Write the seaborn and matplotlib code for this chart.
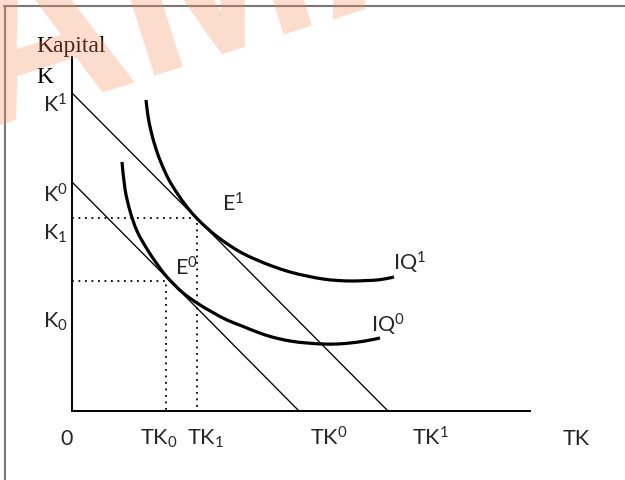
import matplotlib
matplotlib.use('Agg')
import matplotlib.pyplot as plt
import pandas as pd
import seaborn as sns
from matplotlib.lines import Line2D
from matplotlib.path import Path
from matplotlib.patches import PathPatch

# isoquant IQ1 and IQ0 (axis units)
iq1_x = [74, 76, 79, 84, 90, 97, 105, 115, 125, 135, 145, 157, 170, 185,
         200, 218, 235, 251, 266, 281, 295, 305, 315, 322]
iq1_y = [311, 295, 280, 262, 246, 231, 218, 204, 192.5, 183, 174.5, 166, 158, 151,
         145, 139, 135, 132, 130.5, 130, 130.5, 131, 132.5, 134]
iq0_x = [50, 53, 58, 65, 75, 85, 95, 110, 125, 140, 155, 170, 185, 200,
         218, 235, 251, 265, 278, 293, 308]
iq0_y = [249, 222, 200, 180, 162, 147, 134, 119, 108, 99, 91, 85, 79, 74,
         70, 68, 67, 67, 68, 70, 73]

# isocost lines: intercepts on the K axis and the TK axis (K0, K1 / TK0, TK1)
k_intercepts = [229, 318]
tk_intercepts = [227, 316]

# equilibrium points E0, E1
eq_x = [94, 125]
eq_y = [130, 193]

# axis extent
x_max = 458
y_max = 354

# labels
x_labels = ['0', 'TK$_0$', 'TK$_1$', 'TK$^0$', 'TK$^1$', 'TK']
x_label_pos = [-12, 68, 115, 238, 340, 491]
y_labels = ['K$^1$', 'K$^0$', 'K$_1$', 'K$_0$']
y_label_pos = [299, 209, 172, 84]
point_labels = ['E$^1$', 'E$^0$', 'IQ$^1$', 'IQ$^0$']
point_label_pos = [(150, 200), (103, 137), (321, 142), (299, 80)]


def smooth_path(xs, ys):
    """Cubic Bezier path running through the given points."""
    pts = list(zip(xs, ys))
    verts = [pts[0]]
    codes = [Path.MOVETO]
    for i in range(len(pts) - 1):
        p0 = pts[max(i - 1, 0)]
        p1 = pts[i]
        p2 = pts[i + 1]
        p3 = pts[min(i + 2, len(pts) - 1)]
        c1 = (p1[0] + (p2[0] - p0[0]) / 6, p1[1] + (p2[1] - p0[1]) / 6)
        c2 = (p2[0] - (p3[0] - p1[0]) / 6, p2[1] - (p3[1] - p1[1]) / 6)
        verts += [c1, c2, p2]
        codes += [Path.CURVE4] * 3
    return Path(verts, codes)


sns.set_style('white')
plt.rcParams['font.family'] = ['Lato', 'DejaVu Sans']
plt.rcParams['mathtext.fontset'] = 'custom'
plt.rcParams['mathtext.rm'] = 'Lato'
plt.rcParams['mathtext.it'] = 'Lato:italic'
plt.rcParams['mathtext.bf'] = 'Lato:bold'

fig = plt.figure(figsize=(6.25, 4.81), dpi=100)
ax = fig.add_axes([72 / 625, 1 - 412 / 481, 458 / 625, 354 / 481])
ax.set_xlim(0, x_max)
ax.set_ylim(0, y_max)

# isoquants
for xs, ys in [(iq1_x, iq1_y), (iq0_x, iq0_y)]:
    ax.add_patch(PathPatch(smooth_path(xs, ys), facecolor='none',
                           edgecolor='black', lw=2.3, capstyle='butt'))

# isocost lines
for k, tk in zip(k_intercepts, tk_intercepts):
    line = pd.DataFrame({'x': [0, tk], 'y': [k, 0]})
    sns.lineplot(data=line, x='x', y='y', color='black', lw=0.95, ax=ax)

# dotted guides to the equilibrium points
for ex, ey in zip(eq_x, eq_y):
    guide = pd.DataFrame({'x': [0, ex, ex], 'y': [ey, ey, 0]})
    sns.lineplot(data=guide, x='x', y='y', sort=False, estimator=None,
                 color='black', lw=1.3, linestyle=(0, (1, 2.6)), ax=ax)

# axes
sns.despine(ax=ax)
for side in ['left', 'bottom']:
    ax.spines[side].set_linewidth(1.4)
    ax.spines[side].set_color('black')
ax.set_xticks([])
ax.set_yticks([])
ax.set_xlabel('')
ax.set_ylabel('')

fs = 15.5
for lab, xp in zip(x_labels, x_label_pos):
    ax.text(xp, -33, lab, fontsize=fs, ha='left', va='baseline', clip_on=False)
for lab, yp in zip(y_labels, y_label_pos):
    ax.text(-29, yp, lab, fontsize=fs, ha='left', va='baseline', clip_on=False)
for lab, (xp, yp) in zip(point_labels, point_label_pos):
    ax.text(xp, yp, lab, fontsize=fs, ha='left', va='baseline', clip_on=False)

ax.text(-36, 360, 'Kapital', fontsize=17, family='Liberation Serif',
        ha='left', va='baseline', clip_on=False, color='black')
ax.text(-36, 329, 'K', fontsize=17, family='Liberation Serif',
        ha='left', va='baseline', clip_on=False, color='black')

# page frame
fig.add_artist(Line2D([4 / 625, 1], [1 - 7 / 481, 1 - 7 / 481], color='#777777', lw=1.5))
fig.add_artist(Line2D([5 / 625, 5 / 625], [0, 1 - 7 / 481], color='#777777', lw=1.5))

# watermark
fig.text(-23 / 625, 1 - 130 / 481, 'AMAN', fontsize=170, fontweight='bold',
         family='Liberation Sans', color='#f88a55', alpha=0.3, rotation=17.6,
         rotation_mode='anchor', ha='left', va='baseline', zorder=10)

fig.savefig('out.png', dpi=100)
